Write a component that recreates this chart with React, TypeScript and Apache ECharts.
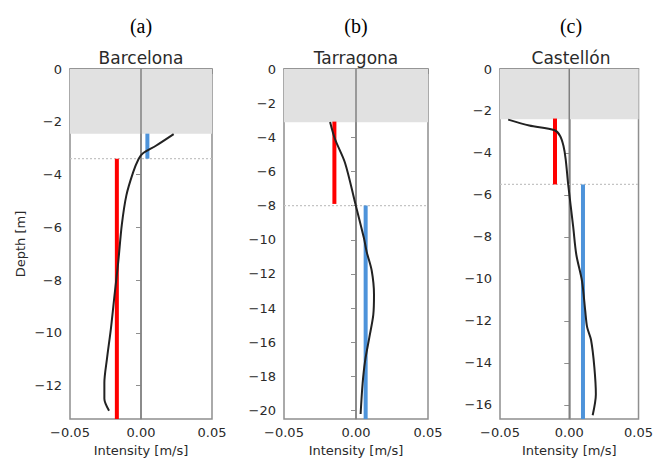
import React, { useEffect, useRef } from "react";
import * as echarts from "echarts";

// ---- data ----
const panelLetters = ["(a)", "(b)", "(c)"];
const siteNames = ["Barcelona", "Tarragona", "Castellón"];
const depthMin = [-13.27, -20.5, -16.68];
const yTicks = [
  [0, -2, -4, -6, -8, -10, -12],
  [0, -2, -4, -6, -8, -10, -12, -14, -16, -18, -20],
  [0, -2, -4, -6, -8, -10, -12, -14, -16],
];
const xTicks = [-0.05, 0, 0.05];
const shadedBottom = [-2.45, -3.12, -2.4];
const layerBoundary = [-3.4, -8.0, -5.5];

// mean intensity bars: [x, yTop, yBottom]
const redBars = [
  [-0.017, -3.4, -13.27],
  [-0.015, -3.08, -7.9],
  [-0.0103, -2.36, -5.5],
];
const blueBars = [
  [0.0045, -2.45, -3.4],
  [0.0067, -8.0, -20.5],
  [0.0099, -5.5, -16.68],
];

// velocity profiles [intensity, depth]
const profileBarcelona = [
  [0.023, -2.47], [0.0105, -2.91], [0.0012, -3.2], [-0.0017, -3.41],
  [-0.0055, -3.91], [-0.0103, -4.79], [-0.0135, -5.9], [-0.016, -7.3],
  [-0.0185, -8.5], [-0.0211, -9.8], [-0.024, -11.0], [-0.0258, -11.9],
  [-0.0258, -12.5], [-0.0225, -12.95],
];
const profileTarragona = [
  [-0.018, -3.1], [-0.0146, -4.1], [-0.0076, -5.5], [-0.0007, -7.8],
  [0.0055, -9.9], [0.0074, -10.7], [0.0109, -11.8], [0.0125, -13.2],
  [0.012, -14.4], [0.0093, -15.7], [0.0063, -17.1], [0.0046, -18.4],
  [0.0032, -20.2],
];
const profileCastellon = [
  [-0.0441, -2.41], [-0.0289, -2.69], [-0.0106, -2.92], [-0.0066, -3.19],
  [-0.0042, -3.66], [-0.0026, -4.29], [-0.0007, -5.55], [0.0028, -7.5],
  [0.0051, -8.85], [0.0092, -10.1], [0.0115, -11.5], [0.0129, -12.3],
  [0.0157, -12.9], [0.0181, -14.2], [0.0192, -15.5], [0.0169, -16.5],
];
const profiles = [profileBarcelona, profileTarragona, profileCastellon];

// ---- layout ----
const gridLefts = [70, 284, 500];
const gridWidths = [142, 144, 142];
const GRID_TOP = 69;
const GRID_H = 354;

const FRAME = "#8f8f8f";
const TEXT = "#2a2a2a";
const SANS = "DejaVu Sans, sans-serif";

const fmt = (v: number, d: number) =>
  (v < 0 ? "\u2212" : "") + Math.abs(v).toFixed(d);

export default function App() {
  const ref = useRef<HTMLDivElement>(null);
  useEffect(() => {
    if (!ref.current) return;
    const chart = echarts.init(ref.current, undefined, { renderer: "svg" });

    const grids: any[] = [];
    const xAxes: any[] = [];
    const yAxes: any[] = [];
    const series: any[] = [];
    const graphics: any[] = [];

    for (let i = 0; i < 3; i++) {
      grids.push({
        left: gridLefts[i],
        top: GRID_TOP,
        width: gridWidths[i],
        height: GRID_H,
        show: true,
        borderColor: FRAME,
        borderWidth: 1.5,
        backgroundColor: "transparent",
      });
      xAxes.push({
        type: "value",
        gridIndex: i,
        min: -0.05,
        max: 0.05,
        name: "Intensity [m/s]",
        nameLocation: "middle",
        nameGap: 22,
        nameTextStyle: { fontFamily: SANS, fontSize: 13, color: TEXT },
        axisLine: { show: true, lineStyle: { color: FRAME, width: 1.5 } },
        axisTick: {
          show: true,
          length: 5,
          lineStyle: { color: FRAME },
          customValues: xTicks,
        },
        axisLabel: {
          fontFamily: SANS,
          fontSize: 13,
          color: TEXT,
          margin: 7,
          customValues: xTicks,
          formatter: (v: number) => fmt(v, 2),
        },
        splitLine: { show: false },
      });
      yAxes.push({
        type: "value",
        gridIndex: i,
        min: depthMin[i],
        max: 0,
        name: i === 0 ? "Depth [m]" : "",
        nameLocation: "middle",
        nameGap: 43,
        nameTextStyle: { fontFamily: SANS, fontSize: 13, color: TEXT },
        axisLine: { show: true, lineStyle: { color: FRAME, width: 1.5 } },
        axisTick: {
          show: true,
          length: 5,
          lineStyle: { color: FRAME },
          customValues: yTicks[i],
        },
        axisLabel: {
          fontFamily: SANS,
          fontSize: 13,
          color: TEXT,
          margin: 8,
          customValues: yTicks[i],
          formatter: (v: number) => fmt(v, 0),
        },
        splitLine: { show: false },
      });

      // background: shaded upper layer
      series.push({
        type: "line",
        xAxisIndex: i,
        yAxisIndex: i,
        data: [[0, 0]],
        symbol: "none",
        lineStyle: { opacity: 0 },
        silent: true,
        z: 1,
        markArea: {
          silent: true,
          itemStyle: { color: "#e1e1e1" },
          data: [[{ yAxis: 0 }, { yAxis: shadedBottom[i] }]],
        },
      });
      // zero line
      series.push({
        type: "line",
        xAxisIndex: i,
        yAxisIndex: i,
        data: [
          [0, 0],
          [0, depthMin[i]],
        ],
        symbol: "none",
        lineStyle: { color: "#808080", width: 1.5 },
        z: 2,
      });
      // layer boundary dotted line
      series.push({
        type: "line",
        xAxisIndex: i,
        yAxisIndex: i,
        data: [
          [-0.05, layerBoundary[i]],
          [0.05, layerBoundary[i]],
        ],
        symbol: "none",
        lineStyle: { color: "#c4c4c4", width: 1.2, type: [2, 2] },
        z: 2,
      });
      // red bar
      series.push({
        type: "line",
        xAxisIndex: i,
        yAxisIndex: i,
        data: [
          [redBars[i][0], redBars[i][1]],
          [redBars[i][0], redBars[i][2]],
        ],
        symbol: "none",
        lineStyle: { color: "#ff0000", width: 4, cap: "butt" },
        z: 3,
      });
      // blue bar
      series.push({
        type: "line",
        xAxisIndex: i,
        yAxisIndex: i,
        data: [
          [blueBars[i][0], blueBars[i][1]],
          [blueBars[i][0], blueBars[i][2]],
        ],
        symbol: "none",
        lineStyle: { color: "#4d93da", width: 4, cap: "butt" },
        z: 3,
      });
      // profile
      series.push({
        type: "line",
        xAxisIndex: i,
        yAxisIndex: i,
        data: profiles[i],
        symbol: "none",
        smooth: 0.3,
        lineStyle: { color: "#222", width: 2 },
        z: 4,
      });

      const cx = gridLefts[i] + gridWidths[i] / 2;
      graphics.push({
        type: "text",
        x: cx,
        y: 26,
        style: {
          text: panelLetters[i],
          fontFamily: "Liberation Serif, Times New Roman, serif",
          fontSize: 20,
          fill: "#000",
          align: "center",
          verticalAlign: "middle",
        },
      });
      graphics.push({
        type: "text",
        x: cx,
        y: 58,
        style: {
          text: siteNames[i],
          fontFamily: SANS,
          fontSize: 17,
          fill: TEXT,
          align: "center",
          verticalAlign: "middle",
        },
      });
    }

    chart.setOption({
      animation: false,
      backgroundColor: "#fff",
      grid: grids,
      xAxis: xAxes,
      yAxis: yAxes,
      series,
      graphic: graphics,
    });
    return () => chart.dispose();
  }, []);

  return <div ref={ref} style={{ width: 656, height: 462, position: "absolute", left: 0, top: 0 }} />;
}
